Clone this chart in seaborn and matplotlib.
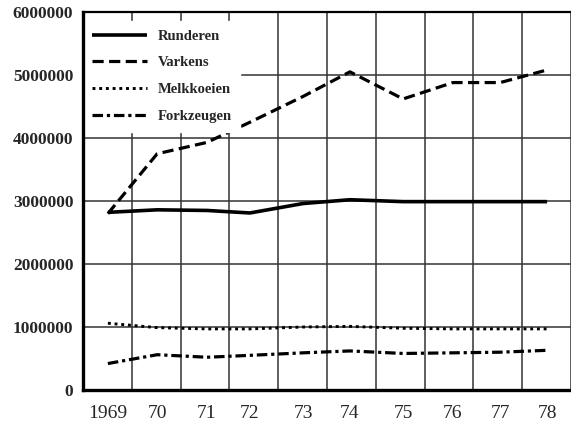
import numpy as np
import pandas as pd
import seaborn as sns
from matplotlib import pyplot as plt

# year labels and where they sit on the (hand drawn) x axis, grid lines at 0..10
years = ['1969', '70', '71', '72', '73', '74', '75', '76', '77', '78']
xpos = [0.51, 1.52, 2.54, 3.42, 4.51, 5.47, 6.56, 7.58, 8.55, 9.51]

runderen = [2820000, 2860000, 2850000, 2810000, 2960000, 3020000, 2990000, 2990000, 2990000, 2990000]
varkens = [2800000, 3750000, 3930000, 4250000, 4660000, 5050000, 4620000, 4880000, 4880000, 5080000]
melkkoeien = [1060000, 990000, 970000, 970000, 1000000, 1010000, 980000, 970000, 970000, 970000]
forkzeugen = [420000, 560000, 520000, 550000, 590000, 620000, 580000, 590000, 600000, 630000]

series = {
    'Runderen': runderen,
    'Varkens': varkens,
    'Melkkoeien': melkkoeien,
    'Forkzeugen': forkzeugen,
}
styles = {
    'Runderen': dict(lw=2.6, linestyle='-'),
    'Varkens': dict(lw=2.3, linestyle=(0, (3.5, 1.7))),
    'Melkkoeien': dict(lw=2.1, linestyle=(0, (1, 1.3))),
    'Forkzeugen': dict(lw=2.3, linestyle=(0, (3.3, 1.2, 1, 1.2))),
}

sns.set_style('white')
plt.rcParams['font.family'] = ['Liberation Serif', 'DejaVu Serif']

fig = plt.figure(figsize=(5.71, 4.23), dpi=100)
ax = fig.add_axes([83 / 571, 33 / 423, 488 / 571, 378 / 423])

for name, vals in series.items():
    df = pd.DataFrame({'x': xpos, 'y': vals})
    sns.lineplot(data=df, x='x', y='y', ax=ax, color='black', label=name,
                 solid_capstyle='butt', dash_capstyle='butt', **styles[name])

ax.set_xlim(0, 10)
ax.set_ylim(0, 6000000)
ax.set_xticks(xpos)
ax.set_xticklabels(years, fontsize=14)
ax.set_xticks(np.arange(0, 11), minor=True)
ax.set_yticks(np.arange(0, 6000001, 1000000))
ax.set_yticklabels([str(v) for v in range(0, 6000001, 1000000)], fontsize=12.5, fontweight='bold')
ax.tick_params(axis='x', which='both', length=0, pad=11)
ax.tick_params(axis='y', length=0, pad=7)
ax.set_xlabel('')
ax.set_ylabel('')

ax.grid(False)
ax.grid(which='minor', axis='x', color='#333333', lw=1.1)
ax.grid(which='major', axis='y', color='#333333', lw=1.1)

for side in ['left', 'bottom']:
    ax.spines[side].set_linewidth(2.4)
    ax.spines[side].set_color('black')
ax.spines['top'].set_linewidth(1.6)
ax.spines['top'].set_color('black')
ax.spines['right'].set_visible(False)

leg = ax.legend(loc='upper left', bbox_to_anchor=(0.0, 0.977), frameon=True, fancybox=False,
                handlelength=3.8, handletextpad=0.7, labelspacing=0.93, borderpad=0.6,
                borderaxespad=0.0, prop={'family': 'Liberation Serif', 'weight': 'bold', 'size': 10.5})
leg.get_frame().set_edgecolor('white')
leg.get_frame().set_facecolor('white')
leg.get_frame().set_alpha(1)
leg.set_zorder(2.4)

fig.savefig('out.png', dpi=100)
